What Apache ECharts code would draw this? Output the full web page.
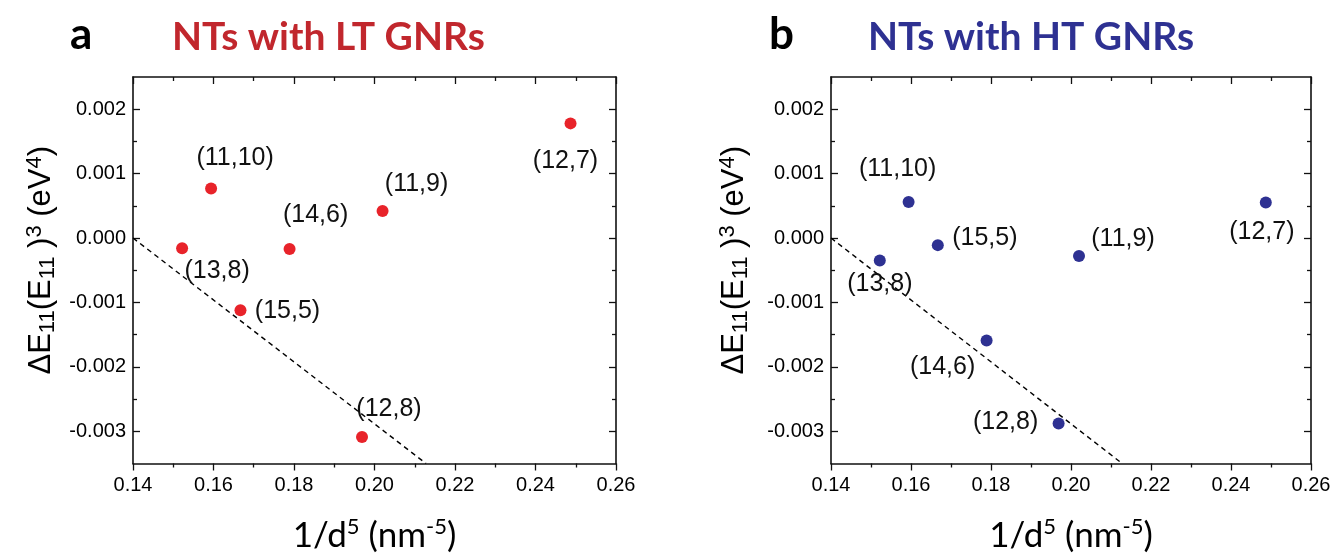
<!DOCTYPE html>
<html>
<head>
<meta charset="utf-8">
<script src="https://cdn.jsdelivr.net/npm/echarts@6/dist/echarts.min.js"></script>
<style>
  html, body { margin: 0; padding: 0; background: #ffffff; }
  #chart { width: 1337px; height: 558px; }
</style>
</head>
<body>
<div id="chart"></div>
<script>
// Nanotube chiralities and their inverse fifth-power diameters (nm^-5)
const nanotubes = ['(13,8)', '(11,10)', '(15,5)', '(14,6)', '(11,9)', '(12,8)', '(12,7)'];
const invD5 = [0.1522, 0.1594, 0.1667, 0.1789, 0.2020, 0.1969, 0.2487];

// ΔE11·(E11)^3 in eV^4 for the two GNR types
const deltaLT = [-0.00016, 0.00077, -0.00112, -0.00017, 0.00042, -0.00309, 0.00178];
const deltaHT = [-0.00035, 0.00056, -0.00011, -0.00159, -0.00028, -0.00288, 0.00055];

// Dashed guide line
const fitX = [0.14, 0.2128];
const fitY = [0.0, -0.0035];

// Axis ticks
const xTicks = [0.14, 0.16, 0.18, 0.20, 0.22, 0.24, 0.26];
const yTicks = [-0.003, -0.002, -0.001, 0.000, 0.001, 0.002];
const yMinorTicks = [-0.0025, -0.0015, -0.0005, 0.0005, 0.0015];

// Label placement around each point (px offsets from the dot centre)
const labelOffsetsLT = [[35, 23], [24, -30], [47, 1], [26, -34], [34, -27], [27, -28], [-5, 38]];
const labelOffsetsHT = [[0, 24], [-11, -33], [47, -7], [-44, 27], [44, -17], [-53, -1], [-4, 29]];

const RED = '#e8232a';
const BLUE = '#2e3192';
const AXIS_COLOR = '#111';

const grids = [
  { left: 133, top: 77, width: 483, height: 389 },
  { left: 831, top: 77, width: 480, height: 389 }
];

const xName = '{n|1/d}{sup|5}{n| (nm}{sup|-5}{n|)}';
const xNameRich = {
  n: { fontFamily: 'Lato', fontSize: 35, lineHeight: 40, color: '#000', verticalAlign: 'middle' },
  sup: { fontFamily: 'Lato', fontSize: 22, lineHeight: 17, color: '#000', verticalAlign: 'top' }
};
const yName = '{n|ΔE}{sub|11}{n|(E}{sub|11}{n| )}{sup|3}{n| (eV}{sup|4}{n|)}';
const yNameRich = {
  n: { fontFamily: 'Liberation Sans', fontSize: 31, lineHeight: 35, color: '#000', verticalAlign: 'middle' },
  sub: { fontFamily: 'Liberation Sans', fontSize: 22, lineHeight: 18, color: '#000', verticalAlign: 'bottom' },
  sup: { fontFamily: 'Liberation Sans', fontSize: 22, lineHeight: 13, color: '#000', verticalAlign: 'top' }
};

const axisLine = { show: true, onZero: false, lineStyle: { color: AXIS_COLOR, width: 1.6 } };

const xAxes = [];
const yAxes = [];
grids.forEach(function (g, gi) {
  const xBase = {
    gridIndex: gi, type: 'value', min: xTicks[0], max: xTicks[xTicks.length - 1], interval: 0.02,
    axisLine: axisLine, splitLine: { show: false },
    minorTick: { show: true, splitNumber: 2, length: 4, lineStyle: { color: AXIS_COLOR, width: 1.3 } }
  };
  xAxes.push(Object.assign({}, xBase, {
    position: 'bottom',
    axisTick: { show: true, inside: false, length: 7, lineStyle: { color: AXIS_COLOR, width: 1.3 } },
    axisLabel: {
      show: true, margin: 12, color: '#000', fontFamily: 'Liberation Sans', fontSize: 20,
      formatter: function (v) { return v.toFixed(2); }
    },
    name: xName, nameLocation: 'middle', nameGap: 52,
    nameTextStyle: { rich: xNameRich }
  }));
  xAxes.push(Object.assign({}, xBase, {
    position: 'top',
    axisTick: { show: true, inside: true, length: 7, lineStyle: { color: AXIS_COLOR, width: 1.3 } },
    axisLabel: { show: false }
  }));

  ['left', 'right'].forEach(function (side) {
    yAxes.push({
      gridIndex: gi, type: 'value', position: side, min: -0.0035, max: 0.0025,
      axisLine: axisLine, splitLine: { show: false },
      axisTick: { show: true, inside: true, length: 7, customValues: yTicks, lineStyle: { color: AXIS_COLOR, width: 1.3 } },
      axisLabel: side === 'left' ? {
        show: true, inside: false, margin: 7, color: '#000', fontFamily: 'Liberation Sans', fontSize: 20,
        customValues: yTicks,
        formatter: function (v) { return (Math.abs(v) < 1e-9 ? 0 : v).toFixed(3); }
      } : { show: false },
      name: side === 'left' ? yName : '',
      nameLocation: 'middle', nameGap: gi === 0 ? 74 : 79,
      nameTextStyle: { rich: yNameRich, padding: [0, 0, 0, 20] }
    });
    yAxes.push({
      gridIndex: gi, type: 'value', position: side, min: -0.0035, max: 0.0025,
      axisLine: { show: false }, splitLine: { show: false }, axisLabel: { show: false },
      axisTick: { show: true, inside: true, length: 4, customValues: yMinorTicks, lineStyle: { color: AXIS_COLOR, width: 1.3 } }
    });
  });
});

function scatterData(values, offsets) {
  return invD5.map(function (x, i) {
    return { value: [x, values[i]], name: nanotubes[i], label: { offset: offsets[i] } };
  });
}

function scatterSeries(gi, values, offsets, color) {
  return {
    type: 'scatter', xAxisIndex: gi * 2, yAxisIndex: gi * 4,
    symbol: 'circle', symbolSize: 12,
    itemStyle: { color: color, opacity: 1 },
    label: {
      show: true, position: 'inside', formatter: '{b}',
      color: '#111', fontFamily: 'Liberation Sans', fontSize: 25
    },
    emphasis: { disabled: true },
    data: scatterData(values, offsets),
    z: 3
  };
}

function fitSeries(gi) {
  return {
    type: 'line', xAxisIndex: gi * 2, yAxisIndex: gi * 4,
    symbol: 'none', silent: true, clip: true,
    lineStyle: { color: '#000', width: 1.4, type: [5, 4] },
    data: fitX.map(function (x, i) { return [x, fitY[i]]; }),
    z: 2
  };
}

const titleFont = { fontFamily: 'Lato', fontWeight: 'bold' };

const chart = echarts.init(document.getElementById('chart'), null, { renderer: 'canvas' });
chart.setOption({
  animation: false,
  backgroundColor: '#ffffff',
  title: [
    { text: 'a', left: 65, top: 8, textStyle: Object.assign({ fontSize: 44, lineHeight: 44, color: '#000' }, titleFont) },
    { text: 'NTs with LT GNRs', left: 167, top: 13, textStyle: Object.assign({ fontSize: 39, lineHeight: 38, color: '#c1272d' }, titleFont) },
    { text: 'b', left: 764, top: 8, textStyle: Object.assign({ fontSize: 44, lineHeight: 44, color: '#000' }, titleFont) },
    { text: 'NTs with HT GNRs', left: 863, top: 13, textStyle: Object.assign({ fontSize: 39, lineHeight: 38, color: BLUE }, titleFont) }
  ],
  grid: grids,
  xAxis: xAxes,
  yAxis: yAxes,
  series: [
    fitSeries(0),
    scatterSeries(0, deltaLT, labelOffsetsLT, RED),
    fitSeries(1),
    scatterSeries(1, deltaHT, labelOffsetsHT, BLUE)
  ]
});
</script>
</body>
</html>
